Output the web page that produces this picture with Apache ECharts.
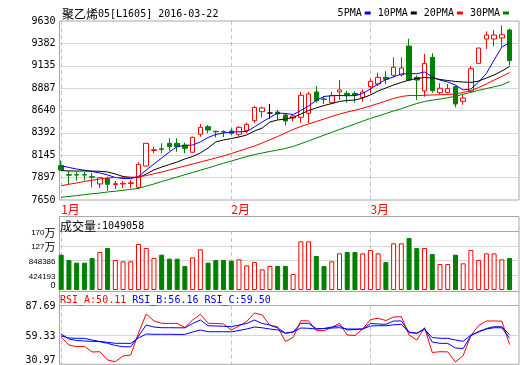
<!DOCTYPE html>
<html><head><meta charset="utf-8">
<script src="https://cdn.jsdelivr.net/npm/echarts@6/dist/echarts.min.js"></script>
<style>html,body{margin:0;padding:0;background:#fff;}#c{width:520px;height:365px;}</style>
</head><body><div id="c"></div>
<script>
// ---- data ----
const monthIdx = [0, 22, 40];
const monthLabels = ['1月', '2月', '3月'];
const titleName = '聚乙烯';
const titleCode = '05[L1605] 2016-03-22';
const lastVolume = 1049058;

const opens  = [8030,7930,7930,7931,7908,7827,7886,7822,7827,7832,7790,8026,8198,8216,8277,8277,8258,8178,8377,8461,8410,8408,8413,8377,8417,8527,8627,8612,8623,8590,8557,8565,8609,8845,8768,8726,8845,8830,8828,8786,8903,8933,9007,9029,9033,9353,9007,8856,9228,8837,8837,8903,8742,8852,9162,9431,9431,9442,9530];
const closes = [7982,7925,7926,7926,7903,7897,7824,7830,7835,7840,8045,8277,8206,8210,8240,8240,8222,8344,8454,8424,8405,8402,8387,8454,8487,8675,8668,8612,8601,8524,8579,8808,8823,8748,8763,8804,8867,8808,8810,8845,8963,9007,8985,9118,9110,8977,8977,9162,8859,8886,8882,8712,8778,9102,9331,9475,9475,9478,9191];
const lows   = [7975,7825,7864,7864,7790,7783,7753,7772,7780,7780,7768,8026,8167,8167,8195,8184,8167,8173,8350,8388,8343,8345,8369,8350,8388,8505,8565,8546,8535,8474,8521,8505,8498,8726,8712,8712,8756,8726,8726,8737,8830,8911,8933,9007,9014,8970,8756,8793,8837,8823,8830,8675,8704,8845,9162,9320,9350,9346,9140];
const highs  = [8085,7970,7963,7963,7952,7905,7908,7860,7860,7870,8067,8280,8240,8277,8333,8333,8284,8350,8491,8480,8417,8420,8443,8469,8505,8690,8682,8712,8646,8609,8594,8845,8845,8911,8800,8845,8977,8859,8852,8874,8992,9058,9074,9228,9228,9434,9029,9265,9273,8941,8933,8919,8815,9132,9331,9514,9530,9582,9545];
const volumes = [1016100,862800,786000,785500,920300,1092800,1207900,862800,824500,825100,
  1322900,1208300,919800,1015600,901100,900600,690200,939500,1169500,786000,
  862800,863300,843600,881900,709400,805300,594300,690200,689700,690600,
  460100,1399600,1400100,977800,690200,824500,1054500,1092800,1093300,1054500,
  1150400,1054500,805300,1342100,1342100,1495500,1207900,1207900,1035300,747700,
  747700,1016100,766900,1150400,862800,1054500,1054500,881900,920300];
const ma5 = [8029,8010,7993,7979,7965,7949,7927,7899,7888,7886,7910,7982,8048,8115,8181,8242,8253,8258,8292,8341,8375,8391,8402,8404,8408,8458,8513,8563,8612,8607,8596,8640,8690,8751,8795,8804,8806,8803,8805,8828,8878,8933,8983,9011,9044,9049,9047,9066,9011,8977,8955,8922,8867,8878,8955,9049,9199,9342,9390];
const ma10 = [7976,7971,7970,7971,7970,7967,7960,7938,7910,7899,7898,7938,7982,8015,8043,8070,8104,8131,8170,8225,8292,8314,8330,8347,8369,8413,8446,8513,8535,8546,8563,8601,8640,8668,8695,8717,8740,8751,8756,8778,8812,8856,8889,8922,8950,8977,8994,9005,8999,8983,8972,8961,8955,8950,8966,8999,9033,9077,9127];
const ma20 = [7808,7824,7838,7855,7868,7882,7893,7899,7901,7902,7904,7921,7940,7960,7982,8004,8026,8048,8070,8092,8115,8137,8164,8192,8220,8247,8281,8316,8352,8391,8430,8463,8491,8518,8546,8574,8601,8623,8643,8665,8690,8717,8745,8773,8795,8806,8805,8808,8812,8814,8817,8823,8839,8861,8894,8933,8977,9016,9060];
const ma30 = [7680,7689,7699,7709,7719,7727,7739,7747,7757,7768,7779,7803,7827,7854,7879,7904,7930,7954,7980,8004,8031,8056,8081,8106,8131,8153,8170,8187,8203,8220,8242,8273,8303,8336,8367,8399,8430,8460,8491,8522,8553,8579,8607,8635,8659,8690,8717,8740,8754,8767,8781,8798,8819,8841,8863,8883,8902,8922,8961];
const rsiA = [57.10,49.65,48.00,48.39,42.87,43.16,35.13,33.48,39.00,39.97,61.26,79.66,72.88,70.65,70.50,70.60,66.59,73.85,79.37,70.65,70.50,69.98,64.17,68.04,72.40,80.62,78.69,68.52,67.36,53.04,56.91,73.17,73.00,63.68,63.60,66.59,70.65,59.33,58.84,65.14,74.33,75.49,73.36,76.75,77.04,59.33,54.49,66.39,42.39,43.16,43.00,33.19,39.48,58.84,68.52,72.88,72.90,72.70,50.11];
const rsiB = [60.30,55.46,54.00,53.52,53.23,52.84,51.29,49.16,48.00,47.90,58.36,69.01,67.07,66.39,66.39,66.30,66.30,70.46,73.85,68.33,68.04,67.75,67.36,69.01,70.46,73.85,70.46,69.01,66.10,61.26,62.23,70.65,70.60,65.43,65.62,67.07,68.33,64.17,64.65,65.14,70.46,69.98,69.69,72.88,72.90,62.23,60.97,65.62,52.55,51.29,51.20,46.74,46.26,58.65,62.72,65.14,66.39,66.30,56.16];
const rsiC = [58.36,56.42,56.13,56.10,54.49,53.04,52.26,51.29,51.29,51.20,56.42,60.30,60.01,60.00,60.00,59.90,59.90,62.23,64.17,62.52,62.50,62.50,62.40,63.68,65.14,67.07,66.30,65.14,64.17,60.97,62.23,66.10,65.81,65.14,65.62,66.10,66.39,65.14,65.10,65.10,68.04,68.33,68.30,69.20,69.69,61.75,60.97,64.94,56.91,56.13,56.10,54.49,53.23,59.33,62.23,65.62,67.36,67.30,59.50];

const priceTicks = [7650, 7897.5, 8145, 8392.5, 8640, 8887.5, 9135, 9382.5, 9630];
const volTicks = [0, 424193, 848386, 1272579, 1696772];
const volTickLabels = ['0', '424193', '848386', '127万', '170万'];
const rsiTicks = [30.97, 59.33, 87.69];

// ---- chart ----
const days = opens.map((_, i) => i);
const xMin = -0.22, xMax = 59.22;
const L = 59.5, W = 459.5;
const BORDER = '#a8a8a8', GLINE = '#d6d6d6', DASH = '#c2c2c2';
const RED = '#ff0000', GREEN = '#008000', BLUE = '#0000ff';
const mono = '"DejaVu Sans Mono", monospace';
const cjk = '"Noto Sans CJK SC", sans-serif';

const candles = days.map(i => [i, opens[i], closes[i], lows[i], highs[i]]);
const volData = days.map(i => {
  const up = closes[i] >= opens[i];
  return { value: [i, volumes[i]], itemStyle: { color: up ? '#ffffff' : GREEN, borderColor: up ? RED : GREEN, borderWidth: 1 } };
});
const pair = arr => days.map(i => [i, arr[i]]);

function xAxisFor(gridIndex, withLabels) {
  return {
    type: 'value', gridIndex, min: xMin, max: xMax,
    axisLine: { show: false },
    axisTick: { show: false, customValues: monthIdx },
    axisLabel: withLabels ? {
      show: true, customValues: monthIdx,
      formatter: v => monthLabels[monthIdx.indexOf(v)],
      color: RED, fontFamily: cjk, fontSize: 12, lineHeight: 12, margin: 3, align: 'left'
    } : { show: false },
    splitLine: { show: true, lineStyle: { color: DASH, type: [4, 3], width: 1 } }
  };
}

const richHead = {
  c: { fontFamily: cjk, fontSize: 12, lineHeight: 14, color: '#000', fontWeight: 'normal' },
  a: { fontFamily: mono, fontSize: 10, lineHeight: 14, color: '#000', fontWeight: 'normal' }
};

const chart = echarts.init(document.getElementById('c'), null, { renderer: 'canvas' });
const gridBase = { left: L, width: W, containLabel: false, outerBoundsMode: 'none', borderWidth: 1, borderColor: BORDER, backgroundColor: 'transparent' };
chart.setOption({
  animation: false,
  backgroundColor: '#ffffff',
  textStyle: { fontFamily: mono },
  title: [
    { text: '{c|' + titleName + '}{a|' + titleCode + '}', left: 62, top: 7, padding: 0,
      textStyle: { fontWeight: 'normal', rich: richHead } },
    { text: '{c|成交量}{a|:' + lastVolume + '}', left: 60, top: 219, padding: 0,
      textStyle: { fontWeight: 'normal', rich: richHead } },
    { text: '{r|RSI_A:' + rsiA[rsiA.length - 1].toFixed(2) + '} {b|RSI_B:' + rsiB[rsiB.length - 1].toFixed(2) + '} {b|RSI_C:' + rsiC[rsiC.length - 1].toFixed(2) + '}',
      left: 60, top: 293, padding: 0,
      textStyle: { fontFamily: mono, fontSize: 10, fontWeight: 'normal', lineHeight: 14,
        rich: { r: { fontFamily: mono, fontSize: 10, lineHeight: 14, color: RED, fontWeight: 'normal' }, b: { fontFamily: mono, fontSize: 10, lineHeight: 14, color: BLUE, fontWeight: 'normal' } } } }
  ],
  legend: {
    data: ['5PMA', '10PMA', '20PMA', '30PMA'],
    right: 11, top: 8, padding: 0, align: 'right', icon: 'rect',
    itemWidth: 6, itemHeight: 3, itemGap: 7,
    textStyle: { fontFamily: mono, fontSize: 10, color: '#000', padding: [0, -2, 0, 0] },
    selectedMode: false
  },
  grid: [
    Object.assign({ top: 21, height: 179, show: true }, gridBase),
    Object.assign({ top: 216.5, height: 75, show: true }, gridBase),
    Object.assign({ top: 231, height: 59, show: false }, gridBase),
    Object.assign({ top: 291.5, height: 72.8, show: true }, gridBase),
    Object.assign({ top: 305.7, height: 58.6, show: false }, gridBase)
  ],
  xAxis: [xAxisFor(0, true), xAxisFor(2, false), xAxisFor(4, false)],
  yAxis: [
    { type: 'value', gridIndex: 0, min: 7650, max: 9630,
      axisLine: { show: false }, axisTick: { show: false, customValues: priceTicks.slice(1, -1) },
      axisLabel: { customValues: priceTicks, formatter: v => String(Math.floor(v)), color: '#000', fontFamily: mono, fontSize: 10, margin: 4 },
      splitLine: { show: true, lineStyle: { color: GLINE, width: 1 } } },
    { type: 'value', gridIndex: 2, min: 0, max: 1696772,
      axisLine: { show: false }, axisTick: { show: false, customValues: volTicks.slice(1) },
      axisLabel: { customValues: volTicks, color: '#000', margin: 4,
        formatter: v => {
          const s = volTickLabels[volTicks.indexOf(v)];
          if (s === '0') return '{z|0}';
          if (s.endsWith('万')) return '{d|' + s.slice(0, -1) + '}{w|万}';
          return '{d|' + s + '}';
        },
        rich: {
          d: { fontFamily: '"Liberation Sans", sans-serif', fontSize: 8, color: '#000', padding: [3, 0, 0, 0] },
          w: { fontFamily: cjk, fontSize: 11, color: '#000', padding: [3, 0, 0, 0] },
          z: { fontFamily: '"Liberation Sans", sans-serif', fontSize: 9, color: '#000', padding: [0, 0, 8, 0] }
        } },
      splitLine: { show: true, lineStyle: { color: [GLINE, GLINE, GLINE, BORDER], width: 1 } } },
    { type: 'value', gridIndex: 4, min: 30.97, max: 87.69,
      axisLine: { show: false }, axisTick: { show: false, customValues: rsiTicks.slice(1) },
      axisLabel: { customValues: rsiTicks, color: '#000', margin: 4,
        formatter: v => v === rsiTicks[0] ? '{z|' + v.toFixed(2) + '}' : '{d|' + v.toFixed(2) + '}',
        rich: {
          d: { fontFamily: mono, fontSize: 10, color: '#000', padding: [2, 0, 0, 0] },
          z: { fontFamily: mono, fontSize: 10, color: '#000', padding: [0, 0, 8, 0] }
        } },
      splitLine: { show: true, lineStyle: { color: [GLINE, BORDER], width: 1 } } }
  ],
  series: [
    { type: 'candlestick', name: 'K', xAxisIndex: 0, yAxisIndex: 0, data: candles, barWidth: 5,
      itemStyle: { color: '#ffffff', color0: GREEN, borderColor: RED, borderColor0: GREEN, borderColorDoji: '#000000', borderWidth: 1 } },
    { type: 'line', name: '5PMA', xAxisIndex: 0, yAxisIndex: 0, data: pair(ma5), symbol: 'none', lineStyle: { width: 1, color: BLUE }, itemStyle: { color: BLUE } },
    { type: 'line', name: '10PMA', xAxisIndex: 0, yAxisIndex: 0, data: pair(ma10), symbol: 'none', lineStyle: { width: 1, color: '#000000' }, itemStyle: { color: '#000000' } },
    { type: 'line', name: '20PMA', xAxisIndex: 0, yAxisIndex: 0, data: pair(ma20), symbol: 'none', lineStyle: { width: 1, color: RED }, itemStyle: { color: RED } },
    { type: 'line', name: '30PMA', xAxisIndex: 0, yAxisIndex: 0, data: pair(ma30), symbol: 'none', lineStyle: { width: 1, color: GREEN }, itemStyle: { color: GREEN } },
    { type: 'bar', name: '成交量', xAxisIndex: 1, yAxisIndex: 1, data: volData, barWidth: 5 },
    { type: 'line', name: 'RSI_A', xAxisIndex: 2, yAxisIndex: 2, data: pair(rsiA), symbol: 'none', lineStyle: { width: 1, color: RED } },
    { type: 'line', name: 'RSI_B', xAxisIndex: 2, yAxisIndex: 2, data: pair(rsiB), symbol: 'none', lineStyle: { width: 1, color: BLUE } },
    { type: 'line', name: 'RSI_C', xAxisIndex: 2, yAxisIndex: 2, data: pair(rsiC), symbol: 'none', lineStyle: { width: 1, color: BLUE } }
  ]
});
</script></body></html>
